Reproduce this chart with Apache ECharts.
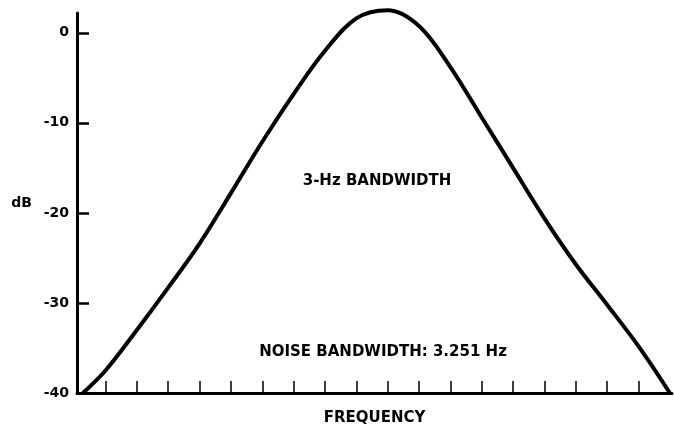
<!DOCTYPE html>
<html>
<head>
<meta charset="utf-8">
<script src="https://cdn.jsdelivr.net/npm/echarts@6/dist/echarts.min.js"></script>
<style>
html,body{margin:0;padding:0;background:#fff;}
#chart{width:674px;height:430px;}
</style>
</head>
<body>
<div id="chart"></div>
<script>
// Frequency positions (in tick-interval units) and response in dB
var freq = [0.28, 1, 2, 3, 4, 5, 6, 7, 8, 9, 10, 11, 12, 13, 14, 15, 16, 17, 18, 19.0];
var dB   = [-40, -37.5, -33.0, -28.3, -23.4, -17.8, -12.1, -6.8, -2.0, 1.6, 2.5, 0.75, -3.8, -9.4, -15.0, -20.6, -25.7, -30.2, -34.8, -40];
var yTicks = [-40, -30, -20, -10, 0];
var xTicks = [1,2,3,4,5,6,7,8,9,10,11,12,13,14,15,16,17,18];
var yName = 'dB';
var xName = 'FREQUENCY';
var note1 = '3-Hz BANDWIDTH';
var note2 = 'NOISE BANDWIDTH: 3.251 Hz';

var points = freq.map(function (f, i) { return [f, dB[i]]; });
var FONT = 'DejaVu Sans';

var chart = echarts.init(document.getElementById('chart'), null, {renderer: 'canvas'});
chart.setOption({
  backgroundColor: '#ffffff',
  animation: false,
  grid: {left: 77, right: 2, top: 13, bottom: 37, containLabel: false, outerBoundsMode: 'none'},
  xAxis: {
    type: 'value',
    min: 0.09,
    max: 19.07,
    name: xName,
    nameLocation: 'middle',
    nameGap: 18,
    nameTextStyle: {color: '#000', fontFamily: FONT, fontWeight: 'bold', fontSize: 15},
    axisLine: {show: true, onZero: false, lineStyle: {color: '#000', width: 3}},
    axisTick: {show: true, inside: true, length: 12, customValues: xTicks, lineStyle: {color: '#000', width: 1.5}},
    axisLabel: {show: false},
    splitLine: {show: false}
  },
  yAxis: {
    type: 'value',
    min: -40,
    max: 2.2,
    name: yName,
    nameLocation: 'middle',
    nameRotate: 0,
    nameGap: 45,
    nameTextStyle: {color: '#000', fontFamily: FONT, fontWeight: 'bold', fontSize: 14},
    axisLine: {show: true, onZero: false, lineStyle: {color: '#000', width: 3}},
    axisTick: {show: true, inside: true, length: 12, customValues: yTicks, lineStyle: {color: '#000', width: 2.5}},
    axisLabel: {show: true, customValues: yTicks, margin: 8, color: '#000', fontFamily: FONT, fontWeight: 'bold', fontSize: 14},
    splitLine: {show: false}
  },
  series: [{
    type: 'line',
    data: points,
    smooth: 0.35,
    clip: false,
    showSymbol: false,
    symbol: 'none',
    lineStyle: {color: '#000', width: 4}
  }],
  graphic: [
    {type: 'text', x: 377, y: 181, style: {text: note1, fill: '#000', font: 'bold 15px "DejaVu Sans"', align: 'center', verticalAlign: 'middle'}},
    {type: 'text', x: 383, y: 352, style: {text: note2, fill: '#000', font: 'bold 15px "DejaVu Sans"', align: 'center', verticalAlign: 'middle'}}
  ]
});
</script>
</body>
</html>
